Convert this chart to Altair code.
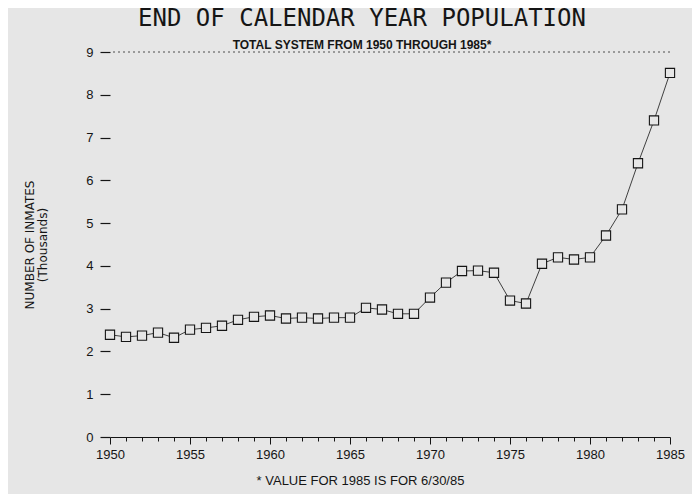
import altair as alt
import pandas as pd

years = list(range(1950, 1986))
inmates = [2.39, 2.34, 2.37, 2.44, 2.32, 2.51, 2.55, 2.60, 2.74, 2.81,
           2.84, 2.77, 2.79, 2.77, 2.79, 2.79, 3.02, 2.98, 2.88, 2.88,
           3.26, 3.61, 3.88, 3.89, 3.84, 3.19, 3.12, 4.05, 4.20, 4.15,
           4.20, 4.71, 5.32, 6.40, 7.40, 8.51]
y_ticks = [0, 1, 2, 3, 4, 5, 6, 7, 8, 9]
top_value = 9

title_text = "END OF CALENDAR YEAR POPULATION"
subtitle_text = "TOTAL SYSTEM FROM 1950 THROUGH 1985*"
y_title = ["NUMBER OF INMATES", "(Thousands)"]
footnote = "* VALUE FOR 1985 IS FOR 6/30/85"

df = pd.DataFrame({"year": years, "inmates": inmates})

BG = "#e6e6e6"
INK = "#151515"

x_enc = alt.X(
    "year:Q",
    scale=alt.Scale(domain=[1950, 1985], nice=False, zero=False),
    axis=alt.Axis(
        values=years,
        labelExpr="datum.value % 5 === 0 ? datum.label : ''",
        format="d",
        title=footnote,
        titleFont="Liberation Sans",
        titleFontSize=13,
        titleFontWeight="normal",
        titleColor=INK,
        titleX=250,
        titleY=37,
        titleAlign="center",
        labelFont="Liberation Sans",
        labelFontSize=13,
        labelColor=INK,
        labelPadding=4,
        labelFlush=False,
        labelOverlap=False,
        labelBound=False,
        domainColor=INK,
        domainWidth=1.2,
        tickColor=INK,
        tickSize={"condition": {"test": "datum.value % 5 === 0", "value": 7}, "value": 4},
        tickWidth=1,
        grid=False,
    ),
)

y_enc = alt.Y(
    "inmates:Q",
    scale=alt.Scale(domain=[0, 9], nice=False),
    axis=alt.Axis(
        values=y_ticks,
        title=y_title,
        titleFont="DejaVu Sans",
        titleFontSize=12,
        titleFontWeight="normal",
        titleColor=INK,
        titlePadding=36,
        titleLineHeight=13,
        labelFont="Liberation Sans",
        labelFontSize=13,
        labelColor=INK,
        labelPadding=7,
        domain=False,
        tickColor=INK,
        tickSize=10,
        tickWidth=1.2,
        grid=False,
    ),
)

base = alt.Chart(df)

top = base.mark_rule(color="#9a9a9a", strokeDash=[2, 3], strokeWidth=0.8).encode(
    y=alt.datum(top_value)
)

line = base.mark_line(color=INK, strokeWidth=0.8).encode(x=x_enc, y=y_enc)
pts = base.mark_point(
    shape="square", size=85, filled=True, fill=BG, stroke=INK, strokeWidth=1.1, opacity=1
).encode(x=x_enc, y=y_enc)

chart = alt.layer(line, pts, top).properties(
    width=560,
    height=385,
    autosize=alt.AutoSizeParams(type="none"),
    padding={"left": 102, "top": 44, "right": 22, "bottom": 57},
    background=BG,
    title=alt.TitleParams(
        text=title_text,
        subtitle=subtitle_text,
        anchor="middle",
        dx=-28,
        offset=-5,
        font="DejaVu Sans Mono",
        fontSize=24,
        fontWeight="normal",
        color=INK,
        subtitleFont="Liberation Sans",
        subtitleFontSize=12,
        subtitleFontWeight="bold",
        subtitleColor=INK,
        subtitlePadding=9,
    ),
).configure_view(stroke=None).configure_axisX(labelOverlap=False)

chart.save("out.html", embed_options={"renderer": "svg", "actions": False})
